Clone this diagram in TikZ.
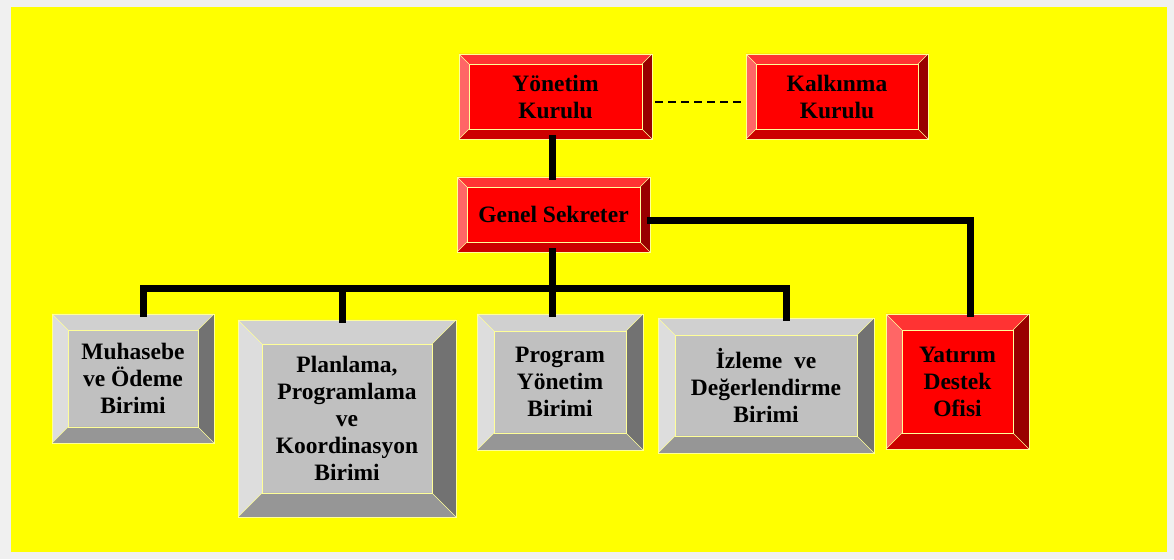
\documentclass[tikz,border=0pt]{standalone}
\usepackage{fontspec}
\setmainfont{Liberation Serif}
\usepackage{tikz}
\usetikzlibrary{
  calc
  , positioning
}

\definecolor{OuterGray}{HTML}{F0F0F0}
\definecolor{Sheet}{HTML}{FFFF00}
\definecolor{EdgeYellow}{HTML}{FFFF99}
% red boxes
\definecolor{RedFace}{HTML}{FF0000}
\definecolor{RedTop}{HTML}{FF3333}
\definecolor{RedLeft}{HTML}{FF6666}
\definecolor{RedRight}{HTML}{990000}
\definecolor{RedBottom}{HTML}{CC0000}
% gray boxes
\definecolor{GrayFace}{HTML}{C0C0C0}
\definecolor{GrayTop}{HTML}{D0D0D0}
\definecolor{GrayLeft}{HTML}{DDDDDD}
\definecolor{GrayRight}{HTML}{727272}
\definecolor{GrayBottom}{HTML}{969696}

% #1 node, #2 bevel size, #3 palette
\newcommand{\BevelFrame}[3]{%
  \fill[#3Top] (#1.north west) -- (#1.north east)
    -- ([shift={(-#2,-#2)}]#1.north east) -- ([shift={(#2,-#2)}]#1.north west) -- cycle;
  \fill[#3Left] (#1.north west) -- ([shift={(#2,-#2)}]#1.north west)
    -- ([shift={(#2,#2)}]#1.south west) -- (#1.south west) -- cycle;
  \fill[#3Right] (#1.north east) -- ([shift={(-#2,-#2)}]#1.north east)
    -- ([shift={(-#2,#2)}]#1.south east) -- (#1.south east) -- cycle;
  \fill[#3Bottom] (#1.south west) -- ([shift={(#2,#2)}]#1.south west)
    -- ([shift={(-#2,#2)}]#1.south east) -- (#1.south east) -- cycle;
  \draw[edge] (#1.north west) rectangle (#1.south east);
  \draw[edge] ([shift={(#2,-#2)}]#1.north west) rectangle ([shift={(-#2,#2)}]#1.south east);
  \draw[edge] (#1.north west) -- ++(#2,-#2) (#1.north east) -- ++(-#2,-#2)
    (#1.south west) -- ++(#2,#2) (#1.south east) -- ++(-#2,#2);
}

\tikzset{
  box/.style={
    inner sep=0pt,
    outer sep=0pt,
    align=center,
    font=\bfseries\fontsize{23.5}{27}\selectfont,
  },
  edge/.style={draw=EdgeYellow, line width=0.6pt},
  trunk/.style={line width=7pt, line join=miter, line cap=rect},
  link/.style={line width=1.3pt, dash pattern=on 8pt off 5pt},
}

\begin{document}
\begin{tikzpicture}[x=1pt, y=1pt]
      \fill[OuterGray] (0,0) rectangle (1174,559);
      \fill[Sheet] (11,7) rectangle (1167,552);

      \node [box, fill=RedFace, minimum width=193, minimum height=85] (YK) at (555.5, 462.5) {Yönetim\\Kurulu};
      \node [box, fill=RedFace, minimum width=182, minimum height=85] (KK) at (837, 462.5) {Kalkınma\\Kurulu};
      \node [box, fill=RedFace, minimum width=193, minimum height=75] (GS) at (553.5, 344.5) {Genel Sekreter};
      \node [box, fill=GrayFace, minimum width=162, minimum height=129] (MO) at (133, 180.5) {Muhasebe\\ve Ödeme\\Birimi};
      \node [box, fill=GrayFace, minimum width=218, minimum height=197] (PP) at (347, 140.5) {Planlama,\\Programlama\\ve\\Koordinasyon\\Birimi};
      \node [box, fill=GrayFace, minimum width=166, minimum height=136] (PY) at (560, 177) {Program\\Yönetim\\Birimi};
      \node [box, fill=GrayFace, minimum width=216, minimum height=135] (ID) at (766, 173.5) {İzleme\ \ ve\\Değerlendirme\\Birimi};
      \node [box, fill=RedFace, minimum width=143, minimum height=135] (YD) at (957.5, 177.5) {Yatırım\\Destek\\Ofisi};

      \BevelFrame{YK}{10}{Red}
      \BevelFrame{KK}{10}{Red}
      \BevelFrame{GS}{10}{Red}
      \BevelFrame{MO}{16}{Gray}
      \BevelFrame{PP}{24}{Gray}
      \BevelFrame{PY}{17}{Gray}
      \BevelFrame{ID}{17}{Gray}
      \BevelFrame{YD}{16}{Red}

      % connectors
      \coordinate (spine) at (552, 0);
      \coordinate (busrow) at (0, 270);
      \draw[trunk] (spine |- YK.south) -- (spine |- GS.north);
      \draw[trunk] (spine |- GS.south) -- (spine |- PY.north);
      \draw[trunk] ([xshift=10pt]MO.north) |- ([xshift=20pt]ID.north |- busrow) -- ([xshift=20pt]ID.north);
      \draw[trunk] ([xshift=-5pt]PP.north) -- ([xshift=-5pt]PP.north |- busrow);
      \draw[trunk] ([yshift=-6.5pt]GS.east) -| ([xshift=12.5pt]YD.north);
      \draw[link] ([shift={(3,-5.5)}]YK.east) -- ([shift={(-4,-5.5)}]KK.west);
\end{tikzpicture}
\end{document}
